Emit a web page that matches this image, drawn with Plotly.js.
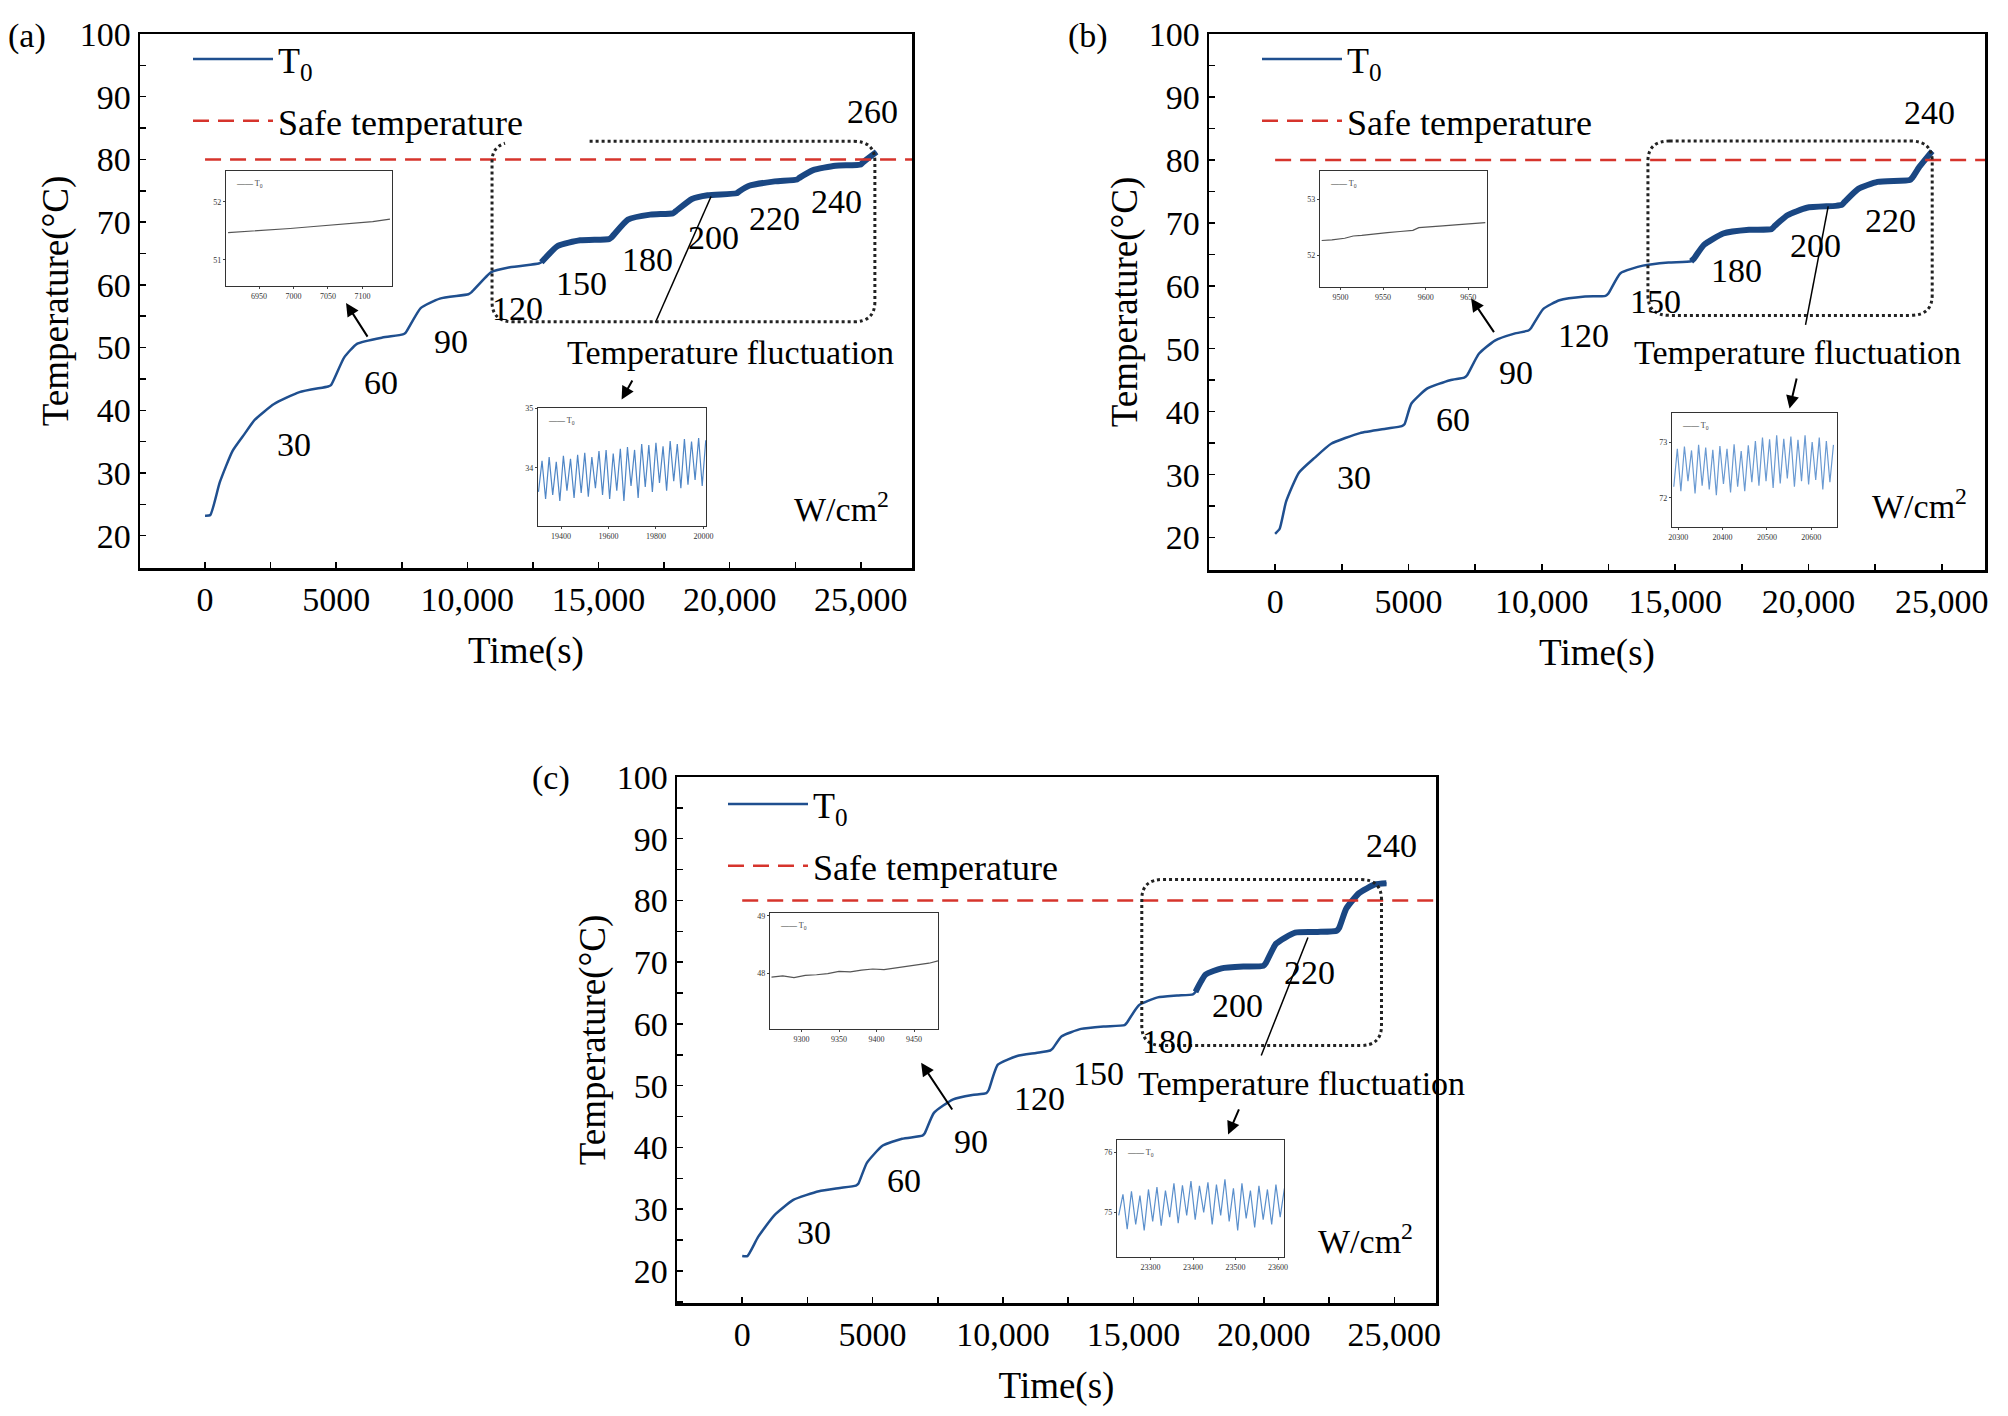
<!DOCTYPE html>
<html>
<head>
<meta charset="utf-8">
<script src="https://cdn.plot.ly/plotly-3.0.1.min.js"></script>
<style>
  html, body { margin: 0; padding: 0; background: #fff; }
  #chart { width: 2008px; height: 1416px; }
</style>
</head>
<body>
<div id="chart"></div>
<script>
// ---- values ----
var xTickVals = [0, 5000, 10000, 15000, 20000, 25000];
var xTickText = ['0', '5000', '10,000', '15,000', '20,000', '25,000'];
var yTickVals = [20, 30, 40, 50, 60, 70, 80, 90, 100];
var safeTemp = 80;

// (a)
var timeA = [0, 200, 560, 1045, 1500, 1900, 2630, 3600, 4690, 4800, 5300, 5790, 6760, 7540, 7650, 8220, 8950, 10040, 10150, 10900, 11620, 12720, 12820, 13450, 14300, 15400, 15500, 16120, 16970, 17830, 17930, 18560, 19160, 20260, 20360, 20740, 21720, 22570, 22670, 23180, 24030, 25000, 25100, 25600];
var tempA = [23.2, 23.3, 28.5, 33.5, 36.2, 38.5, 41.0, 42.9, 43.8, 44.0, 48.4, 50.6, 51.6, 52.1, 52.4, 56.3, 57.8, 58.5, 58.8, 62.0, 62.8, 63.4, 63.6, 66.2, 67.1, 67.3, 67.6, 70.4, 71.2, 71.4, 71.7, 73.7, 74.3, 74.6, 74.9, 75.8, 76.5, 76.8, 77.1, 78.3, 79.0, 79.2, 79.6, 81.2];
var powerA = ['30', '60', '90', '120', '150', '180', '200', '220', '240', '260'];

// (b)
var timeB = [0, 170, 410, 890, 1490, 2100, 3180, 4150, 4750, 4850, 5110, 5710, 6560, 7090, 7200, 7640, 8240, 8970, 9500, 9600, 10050, 10660, 11620, 12390, 12500, 12950, 13790, 14750, 15600, 15700, 16080, 16800, 17770, 18610, 18710, 19210, 19940, 21020, 21260, 21370, 21870, 22590, 23800, 23900, 24160, 24640];
var tempB = [20.6, 21.4, 25.7, 30.3, 32.7, 34.9, 36.6, 37.3, 37.7, 38.0, 41.3, 43.7, 45.0, 45.4, 45.8, 49.2, 51.3, 52.4, 52.9, 53.3, 56.3, 57.7, 58.3, 58.4, 58.8, 62.0, 63.2, 63.7, 63.9, 64.3, 66.5, 68.3, 68.9, 69.0, 69.4, 71.2, 72.4, 72.7, 72.9, 73.4, 75.4, 76.5, 76.8, 77.2, 78.9, 81.4];
var powerB = ['30', '60', '90', '120', '150', '180', '200', '220', '240'];

// (c)
var timeC = [0, 200, 610, 1230, 1960, 2940, 3680, 4360, 4450, 4780, 5390, 6130, 6910, 7000, 7350, 8090, 8820, 9360, 9450, 9800, 10540, 11270, 11810, 11900, 12250, 12990, 13850, 14660, 14750, 15200, 15930, 16670, 17280, 17380, 17770, 18380, 19240, 19980, 20080, 20470, 21200, 22060, 22790, 22890, 23160, 23650, 24260, 24700];
var tempC = [22.4, 22.4, 25.5, 29.0, 31.5, 32.9, 33.4, 33.8, 34.1, 37.5, 40.3, 41.4, 41.9, 42.3, 45.6, 47.8, 48.5, 48.8, 49.3, 53.4, 54.8, 55.3, 55.7, 56.0, 58.0, 59.2, 59.6, 59.8, 60.2, 63.0, 64.3, 64.6, 64.8, 65.2, 68.0, 69.0, 69.3, 69.4, 69.9, 73.0, 74.8, 74.9, 75.1, 75.6, 78.7, 81.2, 82.6, 82.8];
var powerC = ['30', '60', '90', '120', '150', '180', '200', '220', '240'];

// insets
var insetA1Time = [6905, 6935, 6965, 6995, 7025, 7055, 7085, 7115, 7140];
var insetA1Temp = [51.47, 51.49, 51.51, 51.54, 51.57, 51.60, 51.63, 51.66, 51.70];
var insetA1XTicks = [6950, 7000, 7050, 7100];
var insetA1YTicks = [51, 52];

var insetA2Time = [19305, 19320, 19335, 19350, 19365, 19380, 19395, 19410, 19425, 19440, 19455, 19470, 19485, 19500, 19515, 19530, 19545, 19560, 19575, 19590, 19605, 19620, 19635, 19650, 19665, 19680, 19695, 19710, 19725, 19740, 19755, 19770, 19785, 19800, 19815, 19830, 19845, 19860, 19875, 19890, 19905, 19920, 19935, 19950, 19965, 19980, 19995, 20010];
var insetA2Temp = [33.60, 34.12, 33.48, 34.18, 33.55, 34.10, 33.45, 34.20, 33.62, 34.15, 33.50, 34.22, 33.58, 34.25, 33.52, 34.18, 33.66, 34.28, 33.55, 34.30, 33.48, 34.24, 33.62, 34.32, 33.45, 34.35, 33.70, 34.30, 33.50, 34.40, 33.68, 34.38, 33.60, 34.42, 33.75, 34.36, 33.62, 34.45, 33.78, 34.40, 33.66, 34.48, 33.72, 34.44, 33.80, 34.50, 33.70, 34.46];
var insetA2XTicks = [19400, 19600, 19800, 20000];
var insetA2YTicks = [34, 35];

var insetB1Time = [9478, 9490, 9505, 9515, 9525, 9540, 9555, 9570, 9585, 9592, 9605, 9620, 9635, 9650, 9670];
var insetB1Temp = [52.26, 52.27, 52.30, 52.34, 52.35, 52.38, 52.40, 52.42, 52.44, 52.49, 52.50, 52.52, 52.54, 52.56, 52.58];
var insetB1XTicks = [9500, 9550, 9600, 9650];
var insetB1YTicks = [52, 53];

var insetB2Time = [20290, 20298, 20306, 20314, 20322, 20330, 20338, 20346, 20354, 20362, 20370, 20378, 20386, 20394, 20402, 20410, 20418, 20426, 20434, 20442, 20450, 20458, 20466, 20474, 20482, 20490, 20498, 20506, 20514, 20522, 20530, 20538, 20546, 20554, 20562, 20570, 20578, 20586, 20594, 20602, 20610, 20618, 20626, 20634, 20642, 20650];
var insetB2Temp = [72.20, 72.88, 72.12, 72.92, 72.30, 72.85, 72.08, 72.95, 72.22, 72.90, 72.15, 72.86, 72.05, 72.93, 72.25, 72.88, 72.10, 72.96, 72.20, 72.84, 72.12, 72.94, 72.28, 73.02, 72.22, 73.08, 72.30, 73.05, 72.18, 73.12, 72.26, 73.06, 72.35, 73.10, 72.20, 73.04, 72.30, 73.12, 72.24, 73.00, 72.32, 73.08, 72.15, 73.02, 72.28, 72.95];
var insetB2XTicks = [20300, 20400, 20500, 20600];
var insetB2YTicks = [72, 73];

var insetC1Time = [9260, 9275, 9290, 9305, 9320, 9335, 9350, 9365, 9380, 9395, 9410, 9425, 9440, 9455, 9470, 9482];
var insetC1Temp = [47.94, 47.96, 47.93, 47.97, 47.98, 48.00, 48.04, 48.03, 48.06, 48.08, 48.07, 48.10, 48.12, 48.15, 48.18, 48.22];
var insetC1XTicks = [9300, 9350, 9400, 9450];
var insetC1YTicks = [48, 49];

var insetC2Time = [23225, 23235, 23245, 23255, 23265, 23275, 23285, 23295, 23305, 23315, 23325, 23335, 23345, 23355, 23365, 23375, 23385, 23395, 23405, 23415, 23425, 23435, 23445, 23455, 23465, 23475, 23485, 23495, 23505, 23515, 23525, 23535, 23545, 23555, 23565, 23575, 23585, 23595, 23605, 23615];
var insetC2Temp = [74.95, 75.30, 74.72, 75.35, 74.80, 75.28, 74.70, 75.38, 74.85, 75.42, 74.78, 75.36, 74.92, 75.48, 74.82, 75.45, 74.95, 75.52, 74.88, 75.44, 75.00, 75.50, 74.80, 75.46, 74.95, 75.55, 74.85, 75.40, 74.70, 75.48, 74.90, 75.36, 74.75, 75.44, 74.88, 75.38, 74.80, 75.46, 74.92, 75.40];
var insetC2XTicks = [23300, 23400, 23500, 23600];
var insetC2YTicks = [75, 76];

// ---- layout helpers ----
var W = 2008, H = 1416;
var FONT = 'Liberation Serif, Times New Roman, serif';
var LINE_BLUE = '#1f4f8f';
var SAFE_RED = '#d6342c';
var TICK_SIZE = 34, TITLE_SIZE = 37, TEXT_SIZE = 34, LEGEND_SIZE = 36;

function px(x) { return x / W; }
function py(y) { return 1 - y / H; }

var panels = [
    {
        id: '', letter: '(a)', time: timeA, temp: tempA, power: powerA,
        frame: [140, 912, 34, 568], xRange: [-2480, 26950], yRange: [14.85, 100],
        fluctFrom: 12800,
        powerPos: [[3400, 34.6], [6710, 44.5], [9390, 50.9], [11920, 56.3], [14350, 60.2], [16850, 64.1], [19400, 67.5], [21720, 70.5], [24080, 73.3], [25440, 87.6]],
        unitPos: [24270, 24.6],
        fluctText: [20020, 49.2], fluctLine: [19290, 74.1, 17170, 54.0], fluctArrow: [16320, 45.0, 15880, 41.7],
        insetArrow: [6230, 51.5, 5375, 57.1],
        box: [10940, 25535, 54.1, 82.9], boxOpenAt: 14660,
        letterPos: [6, 36], legendPos: [188, 29],
        insets: [
            { box: [226, 392, 171, 286], t: insetA1Time, v: insetA1Temp, xr: [6902, 7143], yr: [50.55, 52.53], xt: insetA1XTicks, yt: insetA1YTicks, color: '#555555' },
            { box: [538, 706, 408, 526], t: insetA2Time, v: insetA2Temp, xr: [19303, 20011], yr: [33.03, 35.0], xt: insetA2XTicks, yt: insetA2YTicks, color: '#4f86c6' }
        ]
    },
    {
        id: '2', letter: '(b)', time: timeB, temp: tempB, power: powerB,
        frame: [1209, 1985, 34, 570], xRange: [-2480, 26620], yRange: [14.85, 100],
        fluctFrom: 15600,
        powerPos: [[2940, 29.6], [6680, 38.8], [9020, 46.2], [11570, 52.1], [14270, 57.5], [17290, 62.5], [20250, 66.4], [23070, 70.4], [24520, 87.6]],
        unitPos: [24160, 25.3],
        fluctText: [19580, 49.4], fluctLine: [20740, 72.6, 19890, 53.8], fluctArrow: [19570, 45.5, 19290, 40.5],
        insetArrow: [8245, 52.4, 7350, 58.0],
        box: [13980, 24640, 55.3, 83.0], boxOpenAt: null,
        letterPos: [1066, 36], legendPos: [1257, 29],
        insets: [
            { box: [1320, 1487, 171, 287], t: insetB1Time, v: insetB1Temp, xr: [9476, 9672], yr: [51.43, 53.5], xt: insetB1XTicks, yt: insetB1YTicks, color: '#555555' },
            { box: [1672, 1837, 413, 527], t: insetB2Time, v: insetB2Temp, xr: [20286, 20658], yr: [71.48, 73.52], xt: insetB2XTicks, yt: insetB2YTicks, color: '#6a9ad2' }
        ]
    },
    {
        id: '3', letter: '(c)', time: timeC, temp: tempC, power: powerC,
        frame: [677, 1436, 777, 1303], xRange: [-2500, 26600], yRange: [14.8, 100],
        fluctFrom: 17300,
        powerPos: [[2745, 26.2], [6200, 34.7], [8770, 41.0], [11400, 47.9], [13650, 52.0], [16300, 57.2], [19000, 63.0], [21760, 68.3], [24880, 88.9]],
        unitPos: [23900, 25.1],
        fluctText: [21450, 50.4], fluctLine: [21690, 74.0, 19900, 54.9], fluctArrow: [19070, 46.4, 18630, 42.1],
        insetArrow: [8090, 45.9, 6860, 53.7],
        box: [15320, 24510, 56.5, 83.4], boxOpenAt: null,
        letterPos: [530, 778], legendPos: [723, 774],
        insets: [
            { box: [770, 938, 913, 1029], t: insetC1Time, v: insetC1Temp, xr: [9258, 9482], yr: [47.04, 49.05], xt: insetC1XTicks, yt: insetC1YTicks, color: '#555555' },
            { box: [1117, 1284, 1140, 1257], t: insetC2Time, v: insetC2Temp, xr: [23221, 23614], yr: [74.26, 76.2], xt: insetC2XTicks, yt: insetC2YTicks, color: '#5a8fcc' }
        ]
    }
];

function roundedBox(b, rx, ry, openAt) {
    var x0 = b[0], x1 = b[1], y0 = b[2], y1 = b[3];
    var p = '';
    if (openAt !== null) {
        p += 'M' + openAt + ',' + y1;
    } else {
        p += 'M' + (x0 + rx) + ',' + y1;
    }
    p += ' L' + (x1 - rx) + ',' + y1 + ' Q' + x1 + ',' + y1 + ' ' + x1 + ',' + (y1 - ry);
    p += ' L' + x1 + ',' + (y0 + ry) + ' Q' + x1 + ',' + y0 + ' ' + (x1 - rx) + ',' + y0;
    p += ' L' + (x0 + rx) + ',' + y0 + ' Q' + x0 + ',' + y0 + ' ' + x0 + ',' + (y0 + ry);
    if (openAt !== null) {
        p += ' L' + x0 + ',' + (y1 - ry) + ' Q' + x0 + ',' + (y1 - ry * 0.3) + ' ' + (x0 + rx * 0.6) + ',' + (y1 - ry * 0.1);
    } else {
        p += ' L' + x0 + ',' + (y1 - ry) + ' Q' + x0 + ',' + y1 + ' ' + (x0 + rx) + ',' + y1 + ' Z';
    }
    return p;
}

var traces = [];
var layout = {
    width: W, height: H,
    margin: { l: 0, r: 0, t: 0, b: 0 },
    paper_bgcolor: '#ffffff',
    plot_bgcolor: 'rgba(0,0,0,0)',
    font: { family: FONT, color: '#000', size: 30 },
    showlegend: true,
    annotations: [],
    shapes: []
};

var insetAxisNo = 4;

panels.forEach(function (p) {
    var xa = 'x' + p.id, ya = 'y' + p.id;
    var legendName = 'legend' + p.id;

    // T0 curve
    traces.push({
        type: 'scatter', mode: 'lines', x: p.time, y: p.temp,
        xaxis: xa, yaxis: ya, name: 'T<sub>0</sub>',
        legend: legendName, legendgroup: 'T0' + p.id,
        line: { color: LINE_BLUE, width: 2.5, shape: 'spline', smoothing: 0.5 }
    });
    // fluctuating part drawn thicker
    var ft = [], fv = [];
    for (var i = 0; i < p.time.length; i++) {
        if (p.time[i] >= p.fluctFrom) { ft.push(p.time[i]); fv.push(p.temp[i]); }
    }
    traces.push({
        type: 'scatter', mode: 'lines', x: ft, y: fv,
        xaxis: xa, yaxis: ya, showlegend: false, hoverinfo: 'skip',
        line: { color: '#1a4783', width: 6, shape: 'spline', smoothing: 0.5 }
    });
    // safe temperature
    traces.push({
        type: 'scatter', mode: 'lines', x: [0, p.xRange[1]], y: [safeTemp, safeTemp],
        xaxis: xa, yaxis: ya, name: 'Safe temperature',
        legend: legendName, legendgroup: 'safe' + p.id,
        line: { color: SAFE_RED, width: 2.5, dash: '16px,9px' }
    });

    var f = p.frame;
    layout['xaxis' + p.id] = {
        domain: [px(f[0]), px(f[1])], anchor: ya, range: p.xRange,
        tickmode: 'array', tickvals: xTickVals, ticktext: xTickText,
        ticks: 'inside', ticklen: 6, tickwidth: 1.5, tickcolor: '#000',
        minor: { tick0: 0, dtick: 2500, ticks: 'inside', ticklen: 6, tickwidth: 1.5, tickcolor: '#000' },
        showline: true, mirror: true, linecolor: '#000', linewidth: 2.5,
        showgrid: false, zeroline: false,
        tickfont: { family: FONT, size: TICK_SIZE, color: '#000' },
        title: { text: 'Time(s)', font: { family: FONT, size: TITLE_SIZE, color: '#000' }, standoff: 20 }
    };
    layout['yaxis' + p.id] = {
        domain: [py(f[3]), py(f[2])], anchor: xa, range: p.yRange,
        tickmode: 'array', tickvals: yTickVals,
        ticks: 'inside', ticklen: 6, tickwidth: 1.5, tickcolor: '#000',
        minor: { tick0: 0, dtick: 5, ticks: 'inside', ticklen: 6, tickwidth: 1.5, tickcolor: '#000' },
        showline: true, mirror: true, linecolor: '#000', linewidth: 2.5,
        showgrid: false, zeroline: false,
        tickfont: { family: FONT, size: TICK_SIZE, color: '#000' },
        title: { text: 'Temperature(°C)', font: { family: FONT, size: TITLE_SIZE, color: '#000' }, standoff: 0 }
    };
    layout[legendName] = {
        x: px(p.legendPos[0]), y: py(p.legendPos[1]), xanchor: 'left', yanchor: 'top',
        bgcolor: 'rgba(0,0,0,0)', borderwidth: 0,
        traceorder: 'grouped', tracegroupgap: 12,
        itemwidth: 80,
        font: { family: FONT, size: LEGEND_SIZE, color: '#000' }
    };

    // panel letter
    layout.annotations.push({
        xref: 'paper', yref: 'paper', x: px(p.letterPos[0]), y: py(p.letterPos[1]),
        xanchor: 'left', yanchor: 'middle', text: p.letter, showarrow: false,
        font: { family: FONT, size: TEXT_SIZE, color: '#000' }
    });
    // power labels
    p.power.forEach(function (label, k) {
        layout.annotations.push({
            xref: xa, yref: ya, x: p.powerPos[k][0], y: p.powerPos[k][1],
            text: label, showarrow: false, font: { family: FONT, size: TEXT_SIZE, color: '#000' }
        });
    });
    layout.annotations.push({
        xref: xa, yref: ya, x: p.unitPos[0], y: p.unitPos[1],
        text: 'W/cm<sup>2</sup>', showarrow: false, font: { family: FONT, size: TEXT_SIZE, color: '#000' }
    });
    layout.annotations.push({
        xref: xa, yref: ya, x: p.fluctText[0], y: p.fluctText[1],
        text: 'Temperature fluctuation', showarrow: false, font: { family: FONT, size: TEXT_SIZE, color: '#000' }
    });
    // arrows
    [p.fluctArrow, p.insetArrow].forEach(function (a) {
        layout.annotations.push({
            xref: xa, yref: ya, axref: xa, ayref: ya,
            ax: a[0], ay: a[1], x: a[2], y: a[3], text: '',
            showarrow: true, arrowhead: 2, arrowsize: 1.3, arrowwidth: 2, arrowcolor: '#000'
        });
    });
    // leader line and dotted box
    layout.shapes.push({
        type: 'line', xref: xa, yref: ya,
        x0: p.fluctLine[0], y0: p.fluctLine[1], x1: p.fluctLine[2], y1: p.fluctLine[3],
        line: { color: '#000', width: 1.5 }
    });
    var rx = (p.xRange[1] - p.xRange[0]) * 0.028, ry = 3.2;
    layout.shapes.push({
        type: 'path', xref: xa, yref: ya,
        path: roundedBox(p.box, rx, ry, p.boxOpenAt),
        line: { color: '#222', width: 3, dash: 'dot' }
    });

    // insets
    p.insets.forEach(function (ins) {
        var n = insetAxisNo++;
        var ixa = 'x' + n, iya = 'y' + n;
        traces.push({
            type: 'scatter', mode: 'lines', x: ins.t, y: ins.v,
            xaxis: ixa, yaxis: iya, showlegend: false, hoverinfo: 'skip',
            line: { color: ins.color, width: 1.2 }
        });
        var b = ins.box;
        layout['xaxis' + n] = {
            domain: [px(b[0]), px(b[1])], anchor: iya, range: ins.xr,
            tickmode: 'array', tickvals: ins.xt, tickformat: 'd', ticks: 'outside', ticklen: 2,
            showline: true, mirror: true, linecolor: '#333', linewidth: 1.2,
            showgrid: false, zeroline: false,
            tickfont: { family: FONT, size: 8, color: '#333' }
        };
        layout['yaxis' + n] = {
            domain: [py(b[3]), py(b[2])], anchor: ixa, range: ins.yr,
            tickmode: 'array', tickvals: ins.yt, tickformat: 'd', ticks: 'outside', ticklen: 2,
            showline: true, mirror: true, linecolor: '#333', linewidth: 1.2,
            showgrid: false, zeroline: false,
            tickfont: { family: FONT, size: 8, color: '#333' }
        };
        layout.annotations.push({
            xref: 'paper', yref: 'paper', x: px(b[0] + 8), y: py(b[2] + 6),
            xanchor: 'left', yanchor: 'top',
            text: '\u2014\u2014 T<sub>0</sub>', showarrow: false,
            font: { family: FONT, size: 8, color: '#444' }
        });
    });
});

Plotly.newPlot('chart', traces, layout, { displayModeBar: false, staticPlot: true });
</script>
</body>
</html>
